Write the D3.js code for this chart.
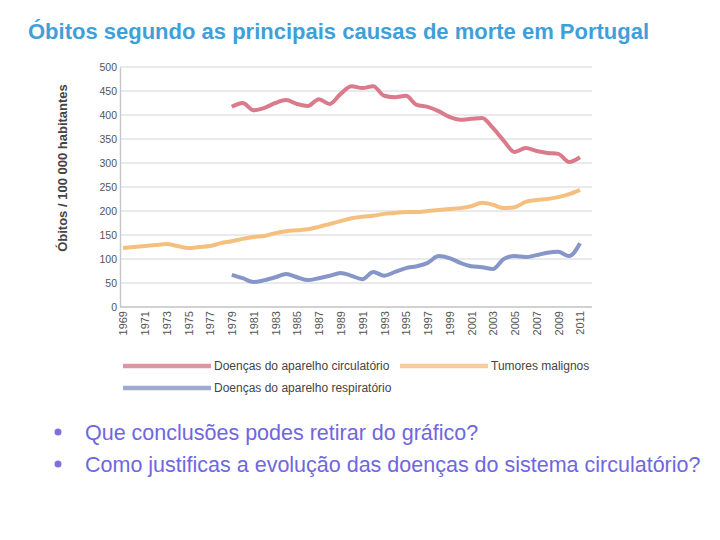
<!DOCTYPE html>
<html>
<head>
<meta charset="utf-8">
<script src="https://cdn.jsdelivr.net/npm/d3@7/dist/d3.min.js"></script>
<style>
  body { margin: 0; background: #fff; }
  svg { display: block; font-family: "Liberation Sans", Arial, sans-serif; }
</style>
</head>
<body>
<svg id="chart" width="720" height="540"></svg>
<script>
"use strict";

var anos = d3.range(1969, 2012);
var anosEixo = d3.range(1969, 2012, 2);
var valoresY = d3.range(0, 501, 50);

// óbitos por 100 000 habitantes
var circulatorio = [null, null, null, null, null, null, null, null, null, null,
	417, 425, 410, 415, 425, 431, 423, 419, 433, 423,
	444, 460, 456, 460, 440, 437, 440, 421, 417, 408,
	396, 390, 392, 394, 373, 346, 323, 331, 325, 321,
	319, 302, 312];
var tumores = [123, 125, 127, 129, 131, 127, 123, 125, 127, 133,
	137, 142, 146, 148, 154, 158, 160, 162, 167, 173,
	179, 185, 188, 190, 194, 196, 198, 198, 200, 202,
	204, 206, 210, 217, 213, 206, 208, 219, 223, 225,
	229, 235, 244];
var respiratorio = [null, null, null, null, null, null, null, null, null, null,
	67, 60, 52, 56, 62, 69, 62, 56, 60, 65,
	71, 65, 58, 73, 65, 73, 81, 85, 92, 106,
	102, 92, 85, 83, 79, 100, 106, 104, 108, 113,
	115, 106, 133];

var series = [
	{ nome: "Doenças do aparelho circulatório", valores: circulatorio, cor: "#d97b8b" },
	{ nome: "Tumores malignos", valores: tumores, cor: "#f5c07f" },
	{ nome: "Doenças do aparelho respiratório", valores: respiratorio, cor: "#8796c8" }
];

var svg = d3.select("#chart");

// titulo
svg.append("text")
	.attr("x", 28).attr("y", 39)
	.attr("fill", "#3f9fda")
	.attr("font-size", 22).attr("font-weight", "bold")
	.text("Óbitos segundo as principais causas de morte em Portugal");

var x = d3.scaleLinear().domain([1969, 2011]).range([123, 580]);
var y = d3.scaleLinear().domain([0, 500]).range([307, 67]);

// grelha
svg.append("g")
	.selectAll("line")
	.data(valoresY).enter()
	.append("line")
		.attr("x1", 120).attr("x2", 592)
		.attr("y1", function(d){ return y(d); })
		.attr("y2", function(d){ return y(d); })
		.attr("stroke", "#e3e3e3").attr("stroke-width", 1.5);

// eixo y
var eixoY = svg.append("g")
	.attr("transform", "translate(120,0)")
	.call(d3.axisLeft(y).tickValues(valoresY).tickSize(0).tickPadding(3));
eixoY.select(".domain").attr("stroke", "#c8c8c8").attr("stroke-width", 1.5);
eixoY.selectAll("text").attr("fill", "#555").attr("font-size", 10.5);

svg.append("text")
	.attr("transform", "translate(67,168) rotate(-90)")
	.attr("text-anchor", "middle")
	.attr("fill", "#444")
	.attr("font-size", 13).attr("font-weight", "bold")
	.text("Óbitos / 100 000 habitantes");

// eixo x
var eixoX = svg.append("g")
	.attr("transform", "translate(0,307)")
	.call(d3.axisBottom(x).tickValues(anosEixo).tickFormat(d3.format("d")).tickSize(0));
eixoX.select(".domain").attr("stroke", "#c8c8c8").attr("stroke-width", 1.5)
	.attr("d", "M120,0H592");
eixoX.selectAll("text")
	.attr("transform", "rotate(-90)")
	.attr("text-anchor", "end")
	.attr("x", -4).attr("y", 0).attr("dy", "0.35em")
	.attr("fill", "#555").attr("font-size", 11);

// linhas
var linha = d3.line()
	.defined(function(d){ return d != null; })
	.x(function(d, i){ return x(anos[i]); })
	.y(function(d){ return y(d); })
	.curve(d3.curveMonotoneX);

svg.append("g")
	.selectAll("path")
	.data(series).enter()
	.append("path")
		.attr("d", function(s){ return linha(s.valores); })
		.attr("fill", "none")
		.attr("stroke", function(s){ return s.cor; })
		.attr("stroke-width", 4)
		.attr("stroke-linejoin", "round");

// legenda
var posLegenda = [[123, 366], [400, 366], [123, 388]];
var legenda = svg.append("g")
	.selectAll("g")
	.data(series).enter()
	.append("g")
		.attr("transform", function(s, i){ return "translate(" + posLegenda[i][0] + "," + posLegenda[i][1] + ")"; });
legenda.append("line")
	.attr("x1", 0).attr("x2", 88)
	.attr("stroke", function(s){ return s.cor; })
	.attr("stroke-width", 4.5).attr("opacity", 0.8);
legenda.append("text")
	.attr("x", 91).attr("dy", "0.35em")
	.attr("fill", "#444").attr("font-size", 12)
	.text(function(s){ return s.nome; });

// perguntas
var perguntas = ["Que conclusões podes retirar do gráfico?",
	"Como justificas a evolução das doenças do sistema circulatório?"];
var q = svg.append("g")
	.selectAll("g")
	.data(perguntas).enter()
	.append("g")
		.attr("transform", function(d, i){ return "translate(58," + (432 + i * 32) + ")"; });
q.append("circle").attr("r", 3.5).attr("fill", "#7b72e0");
q.append("text")
	.attr("x", 27).attr("dy", "0.35em")
	.attr("fill", "#6f66e0").attr("font-size", 21.5)
	.text(function(d){ return d; });
</script>
</body>
</html>
